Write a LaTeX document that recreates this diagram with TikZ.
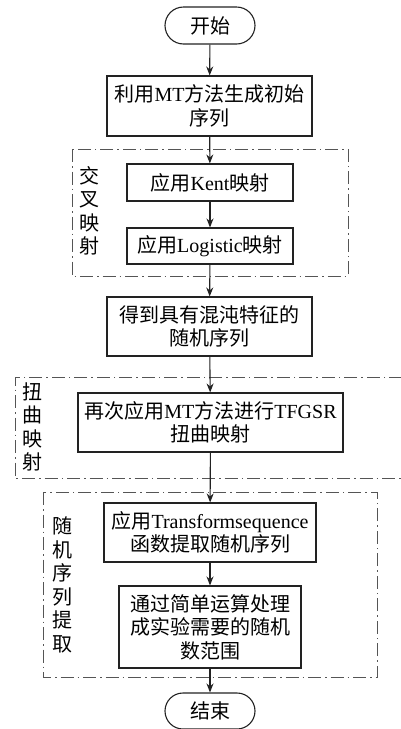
\documentclass[tikz,border=0pt]{standalone}
\usepackage{fontspec}
\setmainfont{Liberation Serif}
\newfontfamily\cjk{Noto Sans CJK SC}
\newcommand\zh[1]{{\cjk #1}}
\usetikzlibrary{arrows.meta,shapes.misc}
\definecolor{lineC}{HTML}{222222}
\definecolor{dashC}{HTML}{555555}
\begin{document}
\begin{tikzpicture}[x=1pt,y=-1pt,
  every node/.style={font=\fontsize{20}{23.5}\selectfont, inner sep=0pt, align=center, text=black},
  procbox/.style={draw=lineC, line width=1.1pt, rectangle},
  termbox/.style={draw=lineC, line width=1.1pt, rounded rectangle, minimum width=90pt, minimum height=37pt},
  grpbox/.style={draw=dashC, line width=1pt, dash pattern=on 13pt off 4pt on 1.5pt off 4pt},
  grplabel/.style={font=\fontsize{20}{23.5}\selectfont},
  flow/.style={draw=lineC, line width=1.1pt, -{Stealth[length=9pt,width=7pt]}}
]
\useasboundingbox (0,0) rectangle (400,729);
% groups
\draw[grpbox] (72,149) rectangle (348,276);
\draw[grpbox] (402,377) -- (15,377) -- (15,478) -- (402,478);
\draw[grpbox] (43,492) rectangle (377,677);
% labels
\node[grplabel] (l1) at (89,211) {\zh{交}\\\zh{叉}\\\zh{映}\\\zh{射}};
\node[grplabel] (l2) at (32,427) {\zh{扭}\\\zh{曲}\\\zh{映}\\\zh{射}};
\node[grplabel] (l3) at (62,585) {\zh{随}\\\zh{机}\\\zh{序}\\\zh{列}\\\zh{提}\\\zh{取}};
% nodes
\node[termbox] (start) at (210,25.5) {\zh{开始}};
\node[procbox, minimum width=205pt, minimum height=60pt] (b1) at (209.5,106) {\zh{利用}MT\zh{方法生成初始}\\\zh{序列}};
\node[procbox, minimum width=166pt, minimum height=37pt] (kent) at (210,182.5) {\zh{应用}Kent\zh{映射}};
\node[procbox, minimum width=166pt, minimum height=36pt] (logi) at (210,246) {\zh{应用}Logistic\zh{映射}};
\node[procbox, minimum width=205pt, minimum height=59pt] (b3) at (209.5,326.5) {\zh{得到具有混沌特征的}\\\zh{随机序列}};
\node[procbox, minimum width=265pt, minimum height=59pt] (b4) at (210.5,422.5) {\zh{再次应用}MT\zh{方法进行}TFGSR\\\zh{扭曲映射}};
\node[procbox, minimum width=212pt, minimum height=59pt] (b5) at (210,532.5) {\zh{应用}Transformsequence\\\zh{函数提取随机序列}};
\node[procbox, minimum width=182pt, minimum height=82pt] (b6) at (210,627) {\zh{通过简单运算处理}\\\zh{成实验需要的随机}\\\zh{数范围}};
\node[termbox, minimum height=36pt] (stop) at (210,711) {\zh{结束}};
% flow
\draw[flow] (start) -- (b1);
\draw[flow] (b1) -- (kent);
\draw[flow] (kent) -- (logi);
\draw[flow] (logi) -- (b3);
\draw[flow] (b3) -- (b4);
\draw[flow] (b4) -- (b5);
\draw[flow] (b5) -- (b6);
\draw[flow] (b6) -- (stop);
\end{tikzpicture}
\end{document}
